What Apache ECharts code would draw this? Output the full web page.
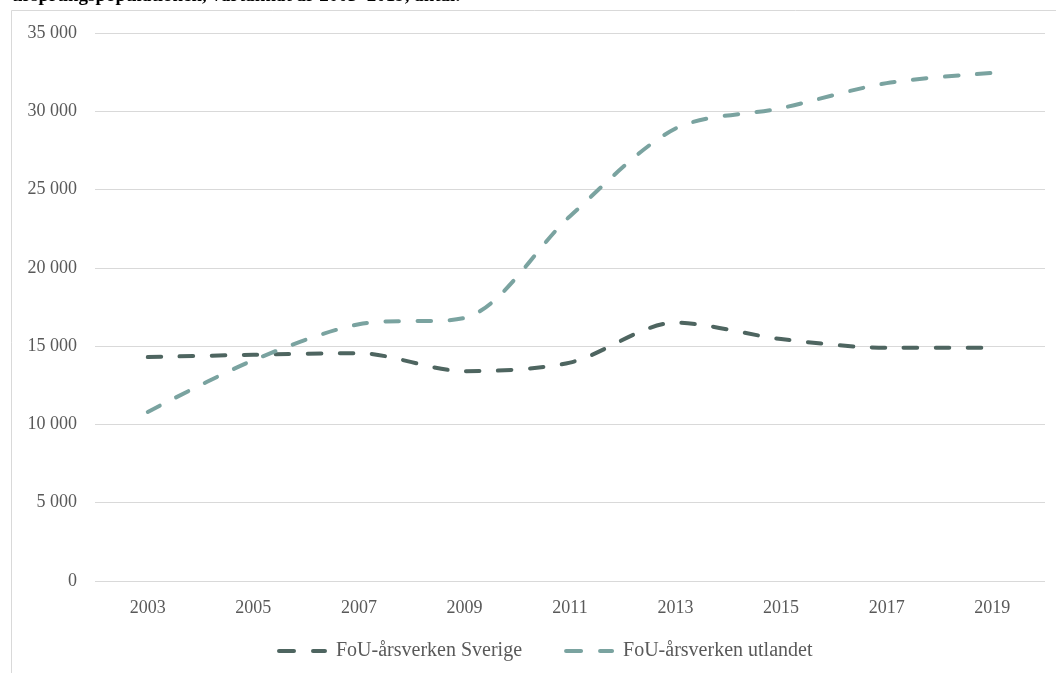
<!DOCTYPE html>
<html>
<head>
<meta charset="utf-8">
<script src="https://cdn.jsdelivr.net/npm/echarts@6/dist/echarts.min.js"></script>
<style>
html,body{margin:0;padding:0;background:#fff;}
#chart{width:1056px;height:673px;}
</style>
</head>
<body>
<div id="chart"></div>
<script>
const titleText = 'ursprungspopulationen, vartannat år 2003–2019, antal.';
const years = ['2003','2005','2007','2009','2011','2013','2015','2017','2019'];
const seriesNames = ['FoU-årsverken Sverige','FoU-årsverken utlandet'];
const sverige = [14300, 14450, 14550, 13400, 13950, 16500, 15450, 14900, 14900];
const utlandet = [10800, 14100, 16400, 16800, 23300, 28900, 30200, 31800, 32450];
const colors = ['#4e6560', '#7aa3a0'];

const font = 'Liberation Serif';
const chart = echarts.init(document.getElementById('chart'));
function fmt(v){ return String(v).replace(/\B(?=(\d{3})+(?!\d))/g, ' '); }
const lineBase = { width: 4, type: [13.5, 18.5], cap: 'round', join: 'round' };
const dashIcon = 'path://M2,0 L17,0 A2,2 0 0 1 17,4 L2,4 A2,2 0 0 1 2,0 Z M36,0 L48,0 A2,2 0 0 1 48,4 L36,4 A2,2 0 0 1 36,0 Z';
chart.setOption({
  animation: false,
  textStyle: { fontFamily: font },
  graphic: [
    { type: 'rect', silent: true, z: -1,
      shape: { x: 11.5, y: 10.5, width: 1100, height: 800 },
      style: { fill: '#fff', stroke: '#d9d9d9', lineWidth: 1 } },
    { type: 'text', left: 12, top: -13,
      style: { text: titleText, font: 'bold 19px "Liberation Serif"', fill: '#000' } }
  ],
  grid: { left: 95, right: 11, top: 33, bottom: 92 },
  legend: {
    bottom: 7, left: 272,
    icon: dashIcon,
    itemWidth: 50, itemHeight: 4, itemGap: 42,
    textStyle: { fontFamily: font, fontSize: 20, color: '#595959', padding: [0, 0, 0, 4] },
    data: seriesNames
  },
  xAxis: {
    type: 'category', data: years, boundaryGap: true,
    axisLine: { show: false }, axisTick: { show: false },
    axisLabel: { margin: 18, fontFamily: font, fontSize: 18, color: '#595959' }
  },
  yAxis: {
    type: 'value', min: 0, max: 35000, interval: 5000,
    axisLine: { show: false }, axisTick: { show: false },
    splitLine: { lineStyle: { color: '#d9d9d9', width: 1 } },
    axisLabel: { margin: 18, fontFamily: font, fontSize: 18, color: '#595959', formatter: fmt }
  },
  series: [
    { name: seriesNames[0], type: 'line', data: sverige, smooth: 0.3, symbol: 'none',
      color: colors[0], lineStyle: Object.assign({ color: colors[0] }, lineBase) },
    { name: seriesNames[1], type: 'line', data: utlandet, smooth: 0.3, symbol: 'none',
      color: colors[1], lineStyle: Object.assign({ color: colors[1] }, lineBase) }
  ]
});
</script>
</body>
</html>
